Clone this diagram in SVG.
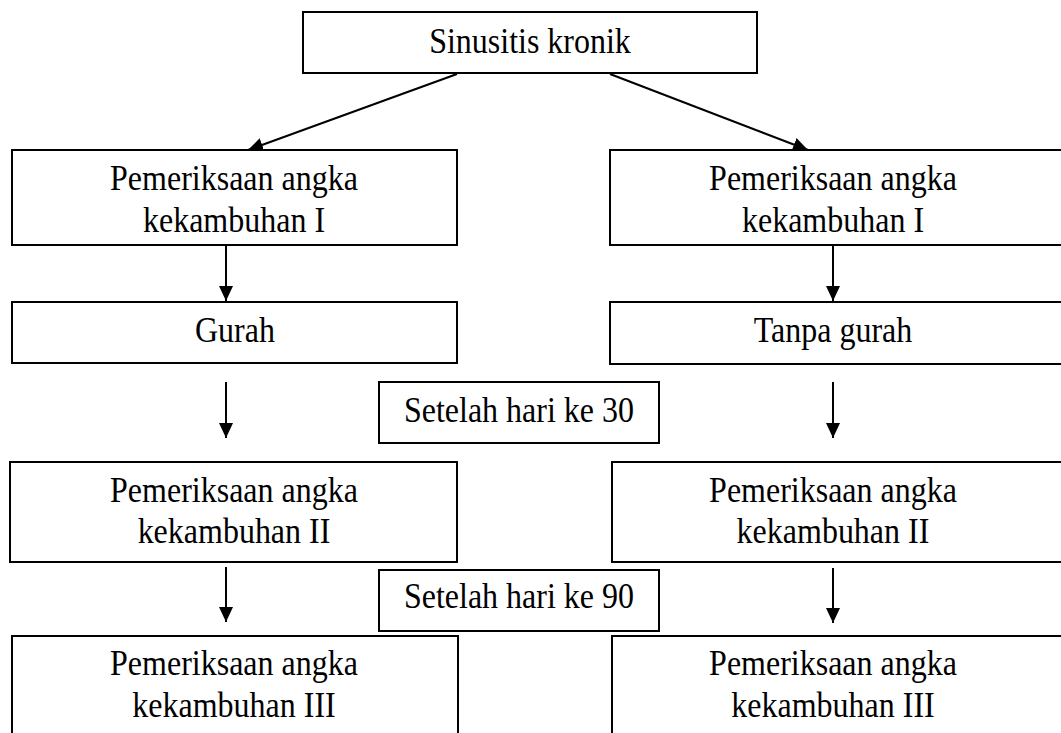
<svg xmlns="http://www.w3.org/2000/svg" width="1061" height="733" viewBox="0 0 1061 733">
<style>
.box{fill:#fff;stroke:#000;stroke-width:2}
.t{font-family:"Liberation Serif","Times New Roman",serif;font-size:32px;fill:#000;text-anchor:middle}
.c{stroke:#000;stroke-width:2;fill:none;marker-end:url(#ah)}
</style>
<defs>
<marker id="ah" markerUnits="userSpaceOnUse" markerWidth="16" markerHeight="14" refX="15" refY="7" orient="auto">
<path d="M0,0 L15,7 L0,14 Z" fill="#000"/>
</marker>
</defs>
<rect width="1061" height="733" fill="#fff"/>
<g id="connectors">
<line class="c" x1="457" y1="74" x2="248" y2="150"/>
<line class="c" x1="610" y1="74" x2="808" y2="150"/>
<line class="c" x1="226" y1="245" x2="226" y2="301"/>
<line class="c" x1="833" y1="245" x2="833" y2="301"/>
<line class="c" x1="226" y1="382" x2="226" y2="438"/>
<line class="c" x1="833" y1="382" x2="833" y2="438"/>
<line class="c" x1="226" y1="567" x2="226" y2="622"/>
<line class="c" x1="833" y1="568" x2="833" y2="623"/>
</g>
<g id="n-sinusitis">
<rect class="box" x="303" y="12" width="454" height="61"/>
<text class="t" x="530" y="48.2" transform="scale(1,1.1)">Sinusitis kronik</text>
</g>
<g id="n-left-1">
<rect class="box" x="12" y="150" width="445" height="95"/>
<text class="t" x="234" y="172.7" transform="scale(1,1.1)">Pemeriksaan angka</text>
<text class="t" x="234" y="211" transform="scale(1,1.1)">kekambuhan I</text>
</g>
<g id="n-right-1">
<rect class="box" x="610" y="150" width="470" height="95"/>
<text class="t" x="833" y="172.7" transform="scale(1,1.1)">Pemeriksaan angka</text>
<text class="t" x="833" y="211" transform="scale(1,1.1)">kekambuhan I</text>
</g>
<g id="n-gurah">
<rect class="box" x="12" y="302" width="445" height="61"/>
<text class="t" x="235" y="310.9" transform="scale(1,1.1)">Gurah</text>
</g>
<g id="n-tanpa-gurah">
<rect class="box" x="610" y="302" width="470" height="62"/>
<text class="t" x="833" y="310.9" transform="scale(1,1.1)">Tanpa gurah</text>
</g>
<g id="n-hari-30">
<rect class="box" x="379" y="382" width="280" height="61"/>
<text class="t" x="519" y="383.6" transform="scale(1,1.1)">Setelah hari ke 30</text>
</g>
<g id="n-left-2">
<rect class="box" x="10" y="462" width="447" height="100"/>
<text class="t" x="234" y="456.4" transform="scale(1,1.1)">Pemeriksaan angka</text>
<text class="t" x="234" y="493.6" transform="scale(1,1.1)">kekambuhan II</text>
</g>
<g id="n-right-2">
<rect class="box" x="612" y="462" width="470" height="100"/>
<text class="t" x="833" y="456.4" transform="scale(1,1.1)">Pemeriksaan angka</text>
<text class="t" x="833" y="493.6" transform="scale(1,1.1)">kekambuhan II</text>
</g>
<g id="n-hari-90">
<rect class="box" x="379" y="570" width="280" height="61"/>
<text class="t" x="519" y="552.7" transform="scale(1,1.1)">Setelah hari ke 90</text>
</g>
<g id="n-left-3">
<rect class="box" x="12" y="636" width="446" height="120"/>
<text class="t" x="234" y="613.6" transform="scale(1,1.1)">Pemeriksaan angka</text>
<text class="t" x="234" y="651.8" transform="scale(1,1.1)">kekambuhan III</text>
</g>
<g id="n-right-3">
<rect class="box" x="612" y="636" width="470" height="120"/>
<text class="t" x="833" y="613.6" transform="scale(1,1.1)">Pemeriksaan angka</text>
<text class="t" x="833" y="651.8" transform="scale(1,1.1)">kekambuhan III</text>
</g>
</svg>
